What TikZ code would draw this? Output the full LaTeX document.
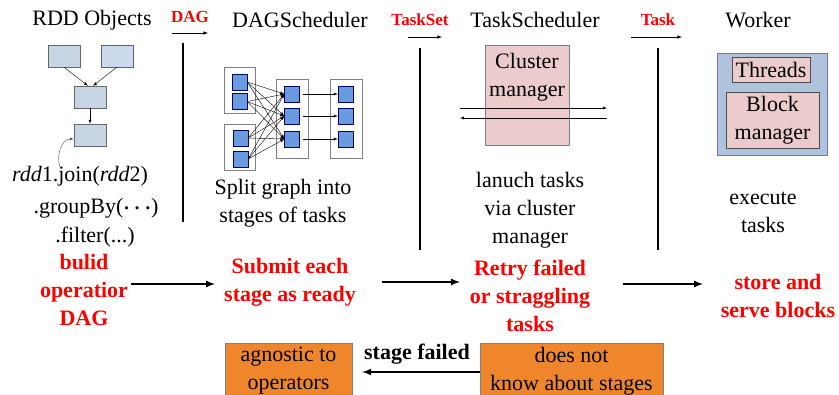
\documentclass[tikz,border=0pt]{standalone}
\usepackage{fontspec}
\setmainfont{Liberation Serif}
\usetikzlibrary{arrows.meta}

\definecolor{rddfill}{HTML}{C8D5E5}
\definecolor{rddpale}{HTML}{CDDAEB}
\definecolor{taskblue}{HTML}{6A9BE0}
\definecolor{pinkbox}{HTML}{EBCBCB}
\definecolor{workerblue}{HTML}{AFC3DD}
\definecolor{orangebox}{HTML}{F0862B}

\tikzstyle{every node}=[font=\fontsize{22}{28}\selectfont, inner sep=2pt]
\tikzstyle{redtxt}=[text=red, font=\fontsize{22}{28}\selectfont\bfseries, align=center]
\tikzstyle{tag}=[text=red, font=\fontsize{17}{20}\selectfont\bfseries]
\tikzstyle{rdd}=[draw=black!60, fill=rddfill, minimum width=32, minimum height=22, inner sep=0]
\tikzstyle{task}=[draw=blue!40!black, fill=taskblue, minimum width=15, minimum height=16, inner sep=0]
\tikzstyle{stagebox}=[draw=black!50, fill=white, inner sep=0]
\tikzstyle{pbox}=[draw=black!50, fill=pinkbox, inner sep=0, align=center]
\tikzstyle{obox}=[draw=black!50, fill=orangebox, inner sep=0, align=center]

\begin{document}
\begin{tikzpicture}[>=latex, x=1pt, y=-1pt]
    \useasboundingbox (0,0) rectangle (839,395);

    % headings
    \node (rddobj) at (92, 20) {RDD Objects};
    \node (dagsch) at (300, 20) {DAGScheduler};
    \node (tasksch) at (535, 20) {TaskScheduler};
    \node (worker) at (758, 20) {Worker};

    \node[tag] (dagtag) at (190, 17) {DAG};
    \node[tag] (tstag) at (420, 20) {TaskSet};
    \node[tag] (tktag) at (658, 20) {Task};
    \coordinate (dag1) at (172, 33);  \coordinate (dag2) at (208, 33);
    \coordinate (ts1) at (408, 37);   \coordinate (ts2) at (442, 37);
    \coordinate (tk1) at (631, 37);   \coordinate (tk2) at (682, 37);
    \draw[->, semithick] (dag1) -- (dag2);
    \draw[->, semithick] (ts1) -- (ts2);
    \draw[->, semithick] (tk1) -- (tk2);

    \draw[line width=2pt] (183, 43) -- (183, 222);
    \draw[line width=2pt] (420, 48) -- (420, 250);
    \draw[line width=2pt] (658, 48) -- (658, 250);

    % RDD objects
    \node[rdd] (r1) at (64, 56) {};
    \node[rdd, fill=rddpale, draw=blue!30!gray] (r2) at (117, 56) {};
    \node[rdd] (r3) at (90, 97) {};
    \node[rdd] (r4) at (90, 135) {};
    \draw[->] (r1.south) -- ([xshift=-2]r3.north);
    \draw[->] (r2.south) -- ([xshift=3]r3.north);
    \draw[->] (r3) -- (r4);

    \node (join) at (80, 176) {\textit{rdd}1.join(\textit{rdd}2)};
    \node (grp) at (96, 208) {.groupBy({\boldmath$\cdots$})};
    \node (flt) at (95, 237) {.filter(...)};
    \coordinate (joinstart) at (60, 167);
    \draw[->, thin, black!70] (joinstart) to[out=110, in=180] ([yshift=-4]r4.west);
    \node[redtxt] (build) at (84, 290) {bulid\\operatior\\DAG};

    % stages
    \node[stagebox, minimum width=31, minimum height=46] (sa) at (239.5, 90) {};
    \node[stagebox, minimum width=31, minimum height=46] (sb) at (239.5, 147) {};
    \node[stagebox, minimum width=32, minimum height=79] (sm) at (292, 118.5) {};
    \node[stagebox, minimum width=32, minimum height=79] (sr) at (346, 118.5) {};
    \node[task] (a1) at (239.5, 82) {};
    \node[task] (a2) at (239.5, 101.5) {};
    \node[task] (b1) at (240.5, 138) {};
    \node[task] (b2) at (240.5, 159) {};
    \foreach \i/\y in {1/94, 2/116, 3/139} {
        \node[task] (m\i) at (292, \y) {};
        \node[task] (t\i) at (345.5, \y) {};
        \draw[->, shorten <=3] (m\i.east) -- (t\i.west);
    }
    \foreach \s in {a1, a2, b1, b2}
        \foreach \t in {m1, m2, m3}
            \draw[->, thin] (\s.east) -- (\t.west);
    \node[align=center] (split) at (283, 203) {Split graph into\\stages of tasks};
    \node[redtxt] (submit) at (290, 282) {Submit each\\stage as ready};

    % task scheduler
    \node[pbox, minimum width=84, minimum height=100] (cm) at (527, 95) {};
    \node[align=center] (cmtxt) at (527, 77) {Cluster\\manager};
    \coordinate (cmin) at (460, 108);  \coordinate (cmout) at (607, 108);
    \coordinate (cmback) at (607, 118); \coordinate (cmleft) at (460, 118);
    \draw[->] (cmin) -- (cmout);
    \draw[->] (cmback) -- (cmleft);
    \node[align=center] (launch) at (530, 210) {lanuch tasks\\via cluster\\manager};
    \node[redtxt] (retry) at (530, 296) {Retry failed\\or straggling\\tasks};

    % worker
    \node[draw=blue!40!gray!80, fill=workerblue, minimum width=110, minimum height=102, inner sep=0] (wk) at (772, 104) {};
    \node[pbox, draw=black!70, minimum width=78, minimum height=25] (threads) at (771, 69.5) {Threads};
    \node[pbox, draw=black!70, minimum width=93, minimum height=56] (blockmgr) at (772.5, 120) {Block\\manager};
    \node[align=center] (exec) at (763, 212) {execute\\tasks};
    \node[redtxt] (store) at (778, 296) {store and\\serve blocks};

    \draw[->, line width=2pt] ([xshift=1]build.east |- 0,284) -- (215, 284);
    \draw[->, line width=2pt] (382, 282) -- (460, 282);
    \draw[->, line width=2pt] (623, 284) -- (703, 284);

    % failures
    \node[obox, minimum width=127, minimum height=56] (agn) at (288.5, 371) {agnostic to\\operators};
    \node[obox, minimum width=183, minimum height=56] (dnk) at (571.5, 371) {does not\\know about stages};
    \node[font=\fontsize{22}{28}\selectfont\bfseries] (failed) at (417, 354) {stage failed};
    \draw[->, line width=2pt] (dnk.west |- 0,372) -- ([xshift=10]agn.east |- 0,372);
\end{tikzpicture}
\end{document}
